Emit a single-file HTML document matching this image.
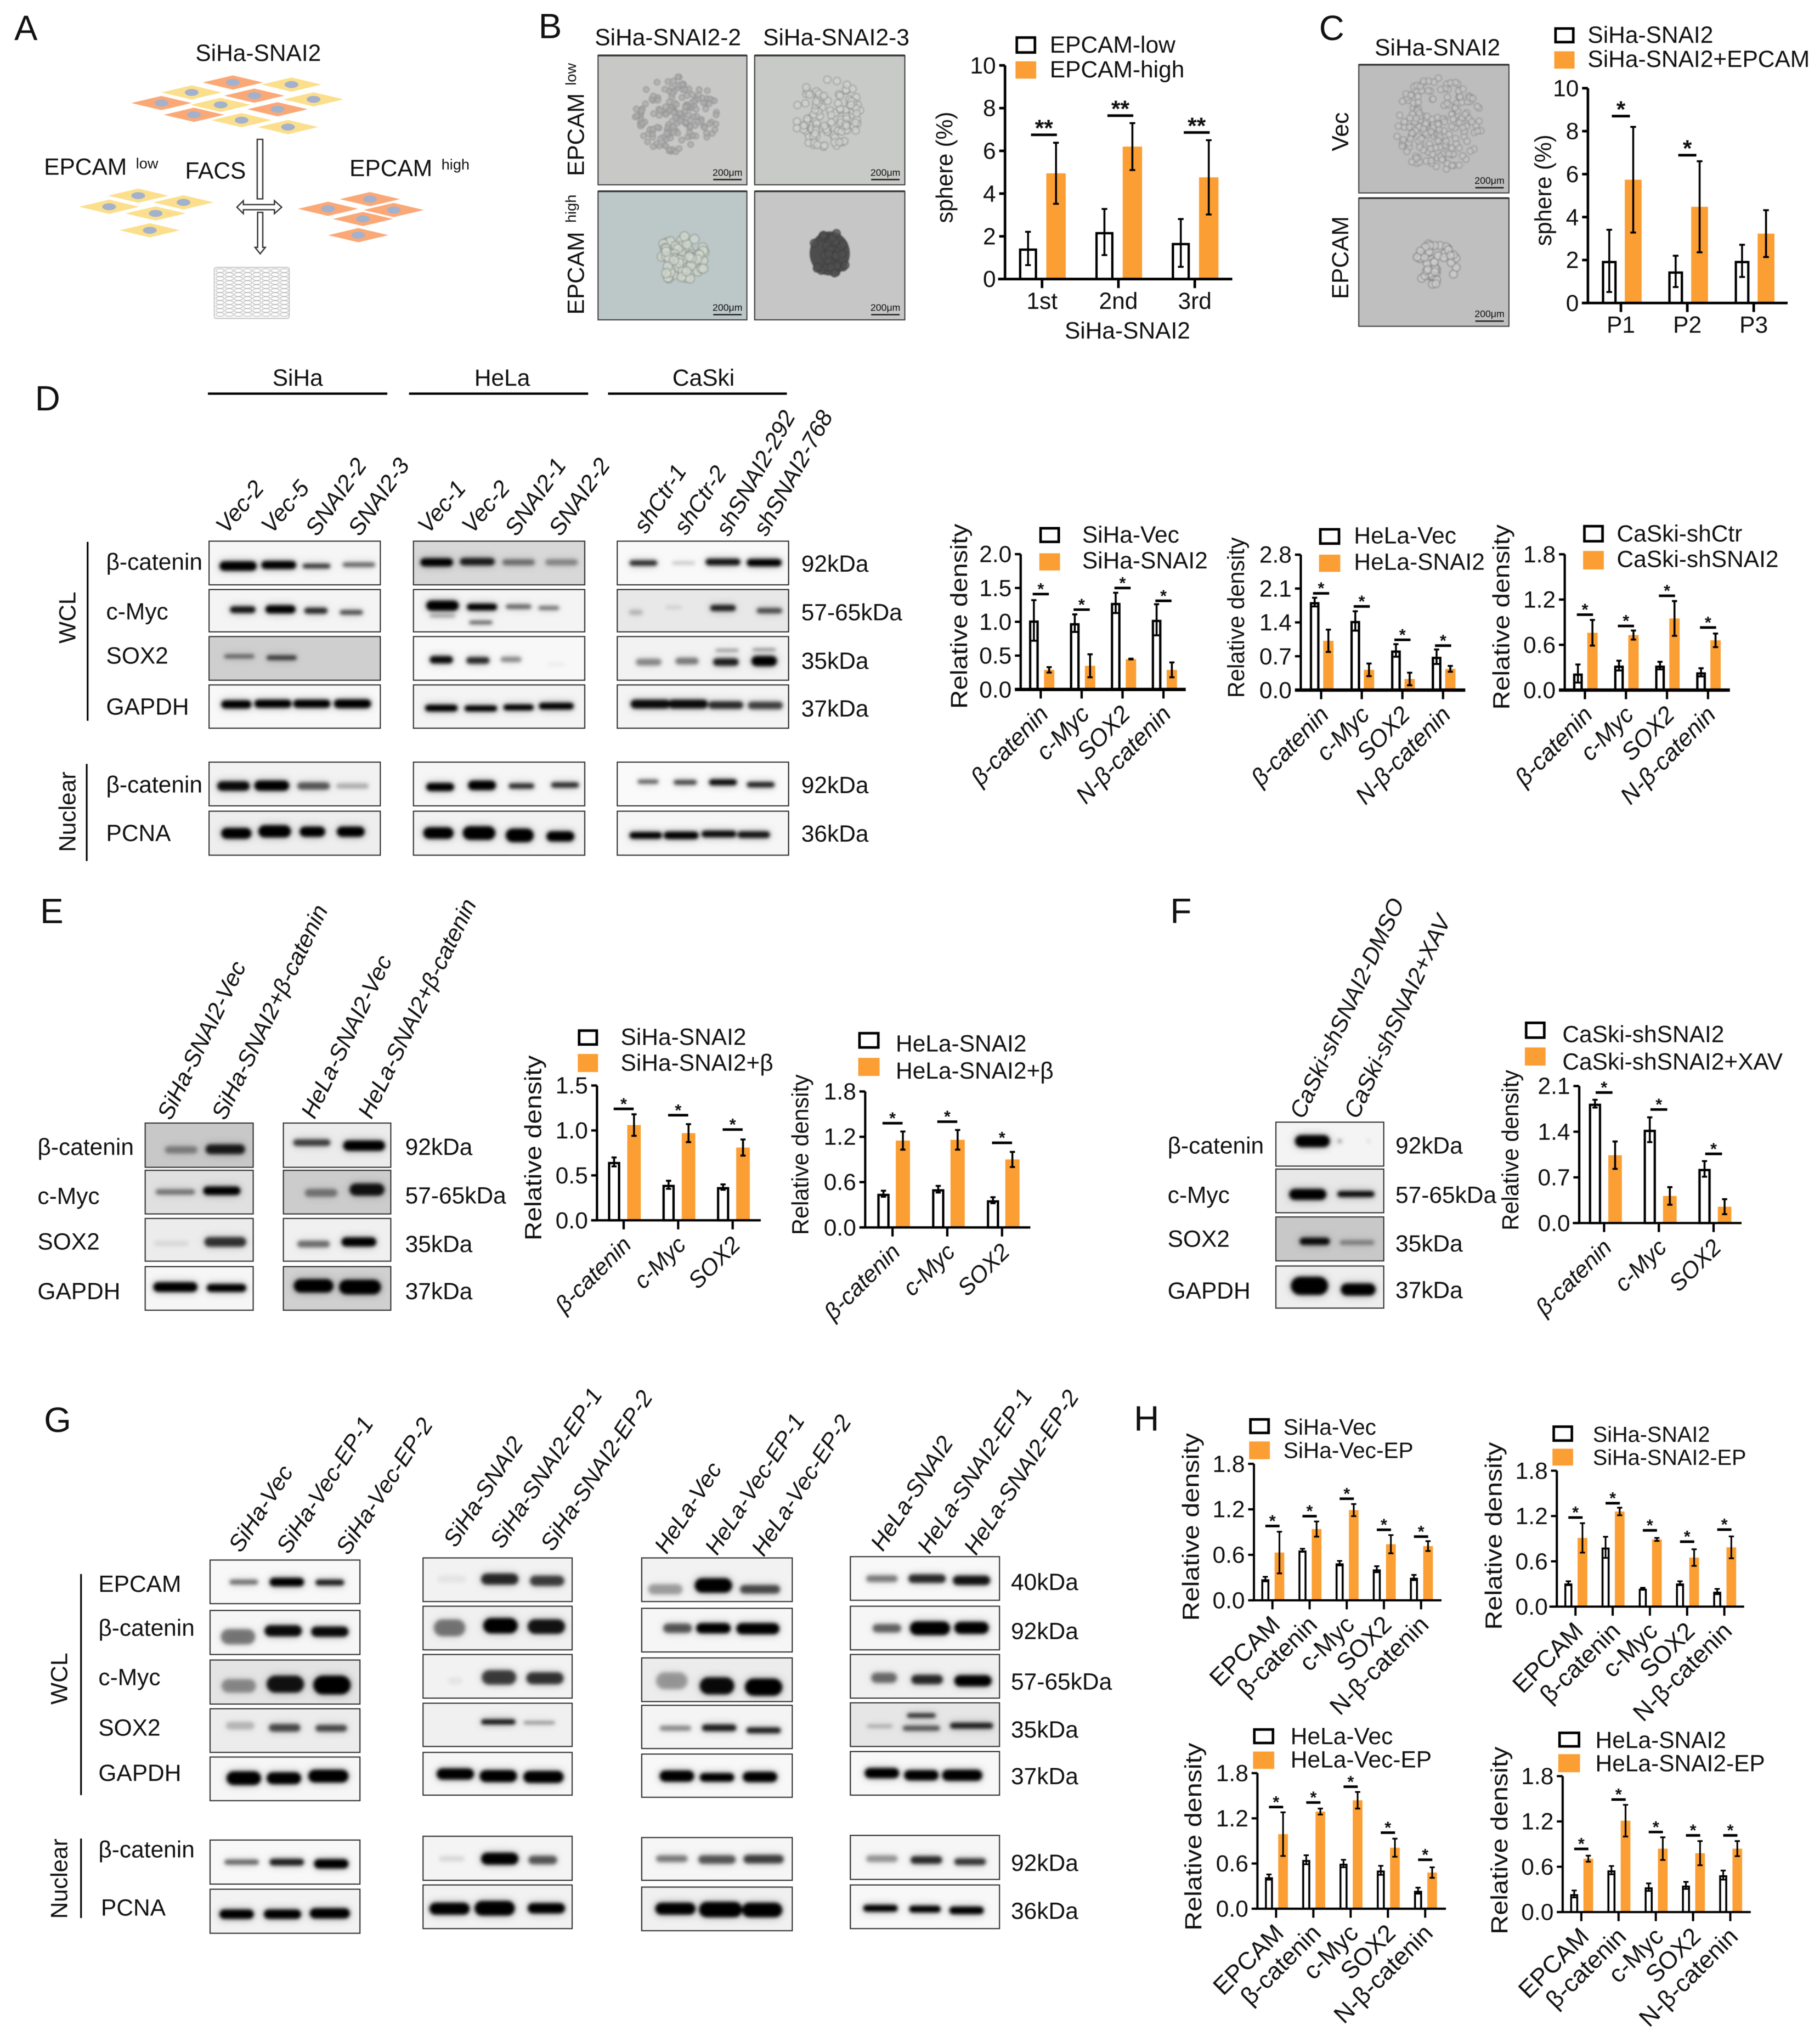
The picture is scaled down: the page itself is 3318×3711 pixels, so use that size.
<!DOCTYPE html>
<html lang="en">
<head>
<meta charset="utf-8">
<title>SNAI2 EPCAM figure</title>
<style>
html,body{margin:0;padding:0;background:#fff;}
#figure{display:block;width:3318px;height:3711px;font-family:"Liberation Sans",Arial,sans-serif;fill:#111;filter:blur(0.8px);}
#figure text{font-size:18px;}
#figure text.panel{font-size:27px;}
#figure text.lane{font-style:italic;}
#figure text.sup{font-size:11.5px;}
#figure text.scale{font-size:7.5px;}
</style>
</head>
<body>
<svg id="figure" xmlns="http://www.w3.org/2000/svg" width="3318" height="3711" viewBox="0 0 1406 1572.5">
<defs>
<filter id="bandBlur" x="-20%" y="-150%" width="140%" height="400%"><feGaussianBlur stdDeviation="1.3"/></filter>
<filter id="haloBlur" x="-20%" y="-150%" width="140%" height="400%"><feGaussianBlur stdDeviation="3.4"/></filter>
<filter id="cellBlur" x="-10%" y="-10%" width="120%" height="120%"><feGaussianBlur stdDeviation="0.45"/></filter>
</defs>
<rect x="0" y="0" width="1406" height="1572.5" fill="#fff"/>

<text class="panel" x="11" y="31">A</text>
<text class="panel" x="416" y="29.5">B</text>
<text class="panel" x="1019" y="31">C</text>
<text class="panel" x="27" y="317">D</text>
<text class="panel" x="31" y="713">E</text>
<text class="panel" x="904" y="713">F</text>
<text class="panel" x="34" y="1106">G</text>
<text class="panel" x="876" y="1105">H</text>

<!-- Panel A labels -->
<text x="151" y="47">SiHa-SNAI2</text>
<text x="34" y="135">EPCAM</text>
<text class="sup" x="105" y="130">low</text>
<text x="143" y="138">FACS</text>
<text x="270" y="136">EPCAM</text>
<text class="sup" x="341" y="131">high</text>
<g fill="#fff" stroke="#333" stroke-width="1">
<rect x="198.7" y="107.6" width="4.3" height="46"/>
<path d="M183 160 L188 155 L188 158 L212 158 L212 155 L217.6 160 L212 165 L212 162 L188 162 L188 165 Z"/>
<path d="M199 164 L203 164 L203 191 L205 191 L201 196 L197 191 L199 191 Z"/>
</g>

<!-- Panel B labels -->
<text x="459.5" y="35">SiHa-SNAI2-2</text>
<text x="589.5" y="35">SiHa-SNAI2-3</text>
<text transform="translate(451,136) rotate(-90)">EPCAM</text>
<text class="sup" transform="translate(445,66) rotate(-90)">low</text>
<text transform="translate(451,243) rotate(-90)">EPCAM</text>
<text class="sup" transform="translate(445,172) rotate(-90)">high</text>
<text transform="translate(735.8,129.3) rotate(-90)" text-anchor="middle" textLength="86" lengthAdjust="spacingAndGlyphs">sphere (%)</text>
<text x="871" y="261.4" text-anchor="middle">SiHa-SNAI2</text>
<rect x="785.5" y="29" width="14" height="11.5" fill="#fff" stroke="#000" stroke-width="2"/>
<text x="811" y="40.7">EPCAM-low</text>
<rect x="784.5" y="47.3" width="16" height="13.4" fill="#fb9e33"/>
<text x="811" y="59.8">EPCAM-high</text>

<!-- Panel C labels -->
<text x="1062" y="42.8">SiHa-SNAI2</text>
<text transform="translate(1041.6,101.7) rotate(-90)" text-anchor="middle">Vec</text>
<text transform="translate(1041.6,199) rotate(-90)" text-anchor="middle">EPCAM</text>
<text transform="translate(1198.4,147) rotate(-90)" text-anchor="middle" textLength="86" lengthAdjust="spacingAndGlyphs">sphere (%)</text>
<rect x="1201.7" y="22" width="13.7" height="10.5" fill="#fff" stroke="#000" stroke-width="2"/>
<text x="1226.5" y="33">SiHa-SNAI2</text>
<rect x="1200.7" y="39.6" width="15.7" height="13.4" fill="#fb9e33"/>
<text x="1226.5" y="51.7">SiHa-SNAI2+EPCAM</text>

<!-- Panel D labels -->
<text x="230" y="297.9" text-anchor="middle">SiHa</text>
<line x1="160.6" x2="299.2" y1="304" y2="304" stroke="#000" stroke-width="1.8"/>
<text x="388" y="297.9" text-anchor="middle">HeLa</text>
<line x1="316" x2="454.4" y1="304" y2="304" stroke="#000" stroke-width="1.8"/>
<text x="543.5" y="297.9" text-anchor="middle">CaSki</text>
<line x1="469.7" x2="607.9" y1="304" y2="304" stroke="#000" stroke-width="1.8"/>
<g>
<text class="lane" transform="translate(175,413) rotate(-50)">Vec-2</text>
<text class="lane" transform="translate(210,413) rotate(-50)">Vec-5</text>
<text class="lane" transform="translate(245,415) rotate(-55)">SNAI2-2</text>
<text class="lane" transform="translate(278,415) rotate(-55)">SNAI2-3</text>
<text class="lane" transform="translate(331,413) rotate(-50)">Vec-1</text>
<text class="lane" transform="translate(365,413) rotate(-50)">Vec-2</text>
<text class="lane" transform="translate(399,415) rotate(-55)">SNAI2-1</text>
<text class="lane" transform="translate(433,415) rotate(-55)">SNAI2-2</text>
<text class="lane" transform="translate(499,413) rotate(-57)">shCtr-1</text>
<text class="lane" transform="translate(530,414) rotate(-57)">shCtr-2</text>
<text class="lane" transform="translate(563,415) rotate(-61)">shSNAI2-292</text>
<text class="lane" transform="translate(592,415) rotate(-61)">shSNAI2-768</text>
</g>
<text transform="translate(58.3,477) rotate(-90)" text-anchor="middle">WCL</text>
<line x1="67.7" x2="67.7" y1="418.5" y2="556.7" stroke="#000" stroke-width="1.3"/>
<text transform="translate(58.3,627) rotate(-90)" text-anchor="middle">Nuclear</text>
<line x1="67" x2="67" y1="590" y2="665" stroke="#000" stroke-width="1.3"/>
<text x="82" y="440">β-catenin</text>
<text x="82" y="478.5">c-Myc</text>
<text x="82" y="512.5">SOX2</text>
<text x="82" y="552">GAPDH</text>
<text x="82" y="612">β-catenin</text>
<text x="82" y="649.5">PCNA</text>
<text x="619" y="441.5">92kDa</text>
<text x="619" y="479">57-65kDa</text>
<text x="619" y="516.5">35kDa</text>
<text x="619" y="553.5">37kDa</text>
<text x="619" y="612.5">92kDa</text>
<text x="619" y="650">36kDa</text>

<!-- Panel D chart legends and titles -->
<text transform="translate(747,476) rotate(-90)" text-anchor="middle" textLength="143" lengthAdjust="spacingAndGlyphs">Relative density</text>
<rect x="803.9" y="408" width="14" height="10.5" fill="#fff" stroke="#000" stroke-width="2"/>
<text x="836" y="419">SiHa-Vec</text>
<rect x="802.9" y="427.3" width="16" height="13.3" fill="#fb9e33"/>
<text x="836" y="439">SiHa-SNAI2</text>
<text transform="translate(961,477) rotate(-90)" text-anchor="middle" textLength="124" lengthAdjust="spacingAndGlyphs">Relative density</text>
<rect x="1020" y="408.8" width="14.4" height="11" fill="#fff" stroke="#000" stroke-width="2"/>
<text x="1046" y="419.8">HeLa-Vec</text>
<rect x="1019" y="428.4" width="16.4" height="13.3" fill="#fb9e33"/>
<text x="1046" y="440">HeLa-SNAI2</text>
<text transform="translate(1166,476.6) rotate(-90)" text-anchor="middle" textLength="143" lengthAdjust="spacingAndGlyphs">Relative density</text>
<rect x="1224" y="406.4" width="14" height="11.6" fill="#fff" stroke="#000" stroke-width="2"/>
<text x="1249" y="418.2">CaSki-shCtr</text>
<rect x="1223" y="425.5" width="16" height="14.3" fill="#fb9e33"/>
<text x="1249" y="438">CaSki-shSNAI2</text>

<!-- Panel E labels -->
<g>
<text class="lane" transform="translate(132,866) rotate(-64)">SiHa-SNAI2-Vec</text>
<text class="lane" transform="translate(174,866) rotate(-64)">SiHa-SNAI2+β-catenin</text>
<text class="lane" transform="translate(243,865) rotate(-64)">HeLa-SNAI2-Vec</text>
<text class="lane" transform="translate(287,865) rotate(-64)">HeLa-SNAI2+β-catenin</text>
</g>
<text x="29" y="892">β-catenin</text>
<text x="29" y="930">c-Myc</text>
<text x="29" y="965">SOX2</text>
<text x="29" y="1003.5">GAPDH</text>
<text x="313" y="892">92kDa</text>
<text x="313" y="929.5">57-65kDa</text>
<text x="313" y="967">35kDa</text>
<text x="313" y="1003.5">37kDa</text>
<text transform="translate(418,886.6) rotate(-90)" text-anchor="middle" textLength="143" lengthAdjust="spacingAndGlyphs">Relative density</text>
<rect x="447.4" y="796" width="13.6" height="10.7" fill="#fff" stroke="#000" stroke-width="2"/>
<text x="479.5" y="807">SiHa-SNAI2</text>
<text x="479.5" y="827">SiHa-SNAI2+β</text>
<rect x="446.4" y="814" width="15.6" height="14" fill="#fb9e33"/>
<text transform="translate(624.5,891.8) rotate(-90)" text-anchor="middle" textLength="124" lengthAdjust="spacingAndGlyphs">Relative density</text>
<rect x="664" y="798" width="14.5" height="11" fill="#fff" stroke="#000" stroke-width="2"/>
<text x="692" y="812">HeLa-SNAI2</text>
<rect x="663" y="817" width="16.5" height="14" fill="#fb9e33"/>
<text x="692" y="833">HeLa-SNAI2+β</text>

<!-- Panel F labels -->
<g>
<text class="lane" transform="translate(1007,865) rotate(-65)">CaSki-shSNAI2-DMSO</text>
<text class="lane" transform="translate(1049,865) rotate(-65)">CaSki-shSNAI2+XAV</text>
</g>
<text x="902" y="891">β-catenin</text>
<text x="902" y="929">c-Myc</text>
<text x="902" y="963">SOX2</text>
<text x="902" y="1003">GAPDH</text>
<text x="1078" y="891">92kDa</text>
<text x="1078" y="929">57-65kDa</text>
<text x="1078" y="966.5">35kDa</text>
<text x="1078" y="1002.5">37kDa</text>
<text transform="translate(1173,888.3) rotate(-90)" text-anchor="middle" textLength="124" lengthAdjust="spacingAndGlyphs">Relative density</text>
<rect x="1179" y="790" width="14" height="11.4" fill="#fff" stroke="#000" stroke-width="2"/>
<text x="1207" y="805">CaSki-shSNAI2</text>
<rect x="1178" y="809" width="16" height="14" fill="#fb9e33"/>
<text x="1207" y="826">CaSki-shSNAI2+XAV</text>

<!-- Panel G labels -->
<g>
<text class="lane" transform="translate(186,1200) rotate(-57)">SiHa-Vec</text>
<text class="lane" transform="translate(223,1201) rotate(-57)">SiHa-Vec-EP-1</text>
<text class="lane" transform="translate(269,1202) rotate(-57)">SiHa-Vec-EP-2</text>
<text class="lane" transform="translate(352,1196) rotate(-57)">SiHa-SNAI2</text>
<text class="lane" transform="translate(388,1197) rotate(-57)">SiHa-SNAI2-EP-1</text>
<text class="lane" transform="translate(427,1199) rotate(-57)">SiHa-SNAI2-EP-2</text>
<text class="lane" transform="translate(515,1201) rotate(-57)">HeLa-Vec</text>
<text class="lane" transform="translate(554,1202) rotate(-57)">HeLa-Vec-EP-1</text>
<text class="lane" transform="translate(590,1203) rotate(-57)">HeLa-Vec-EP-2</text>
<text class="lane" transform="translate(682,1199) rotate(-57)">HeLa-SNAI2</text>
<text class="lane" transform="translate(718,1201) rotate(-57)">HeLa-SNAI2-EP-1</text>
<text class="lane" transform="translate(754,1202) rotate(-57)">HeLa-SNAI2-EP-2</text>
</g>
<text transform="translate(52,1296.5) rotate(-90)" text-anchor="middle">WCL</text>
<line x1="62.6" x2="62.6" y1="1215.7" y2="1386.5" stroke="#000" stroke-width="1.3"/>
<text transform="translate(52,1451) rotate(-90)" text-anchor="middle">Nuclear</text>
<line x1="62.6" x2="62.6" y1="1420" y2="1481.4" stroke="#000" stroke-width="1.3"/>
<text x="76" y="1229.5">EPCAM</text>
<text x="76" y="1263.5">β-catenin</text>
<text x="76" y="1301.5">c-Myc</text>
<text x="76" y="1340.5">SOX2</text>
<text x="76" y="1375.5">GAPDH</text>
<text x="76" y="1434.5">β-catenin</text>
<text x="78" y="1479.5">PCNA</text>
<text x="781" y="1228">40kDa</text>
<text x="781" y="1266">92kDa</text>
<text x="781" y="1305">57-65kDa</text>
<text x="781" y="1342">35kDa</text>
<text x="781" y="1378">37kDa</text>
<text x="781" y="1445">92kDa</text>
<text x="781" y="1482">36kDa</text>

<!-- Panel H titles and legends -->
<text transform="translate(926,1179.4) rotate(-90)" text-anchor="middle" textLength="145" lengthAdjust="spacingAndGlyphs">Relative density</text>
<rect x="966" y="1096.3" width="14" height="10.4" fill="#fff" stroke="#000" stroke-width="2"/>
<text style="font-size:17.2px" x="991.5" y="1108">SiHa-Vec</text>
<rect x="965" y="1113.3" width="16" height="13.7" fill="#fb9e33"/>
<text style="font-size:17.2px" x="991.5" y="1126">SiHa-Vec-EP</text>
<text transform="translate(1160,1186.3) rotate(-90)" text-anchor="middle" textLength="145" lengthAdjust="spacingAndGlyphs">Relative density</text>
<rect x="1200.3" y="1101.9" width="14" height="10.7" fill="#fff" stroke="#000" stroke-width="2"/>
<text style="font-size:16.8px" x="1230.5" y="1113.5">SiHa-SNAI2</text>
<rect x="1199.3" y="1118.9" width="16" height="13" fill="#fb9e33"/>
<text style="font-size:16.8px" x="1230.5" y="1131.5">SiHa-SNAI2-EP</text>
<text transform="translate(928,1418.6) rotate(-90)" text-anchor="middle" textLength="145" lengthAdjust="spacingAndGlyphs">Relative density</text>
<rect x="969" y="1335.8" width="14.4" height="10.4" fill="#fff" stroke="#000" stroke-width="2"/>
<text x="997" y="1347">HeLa-Vec</text>
<rect x="968" y="1352.8" width="16.4" height="13.4" fill="#fb9e33"/>
<text x="997" y="1365">HeLa-Vec-EP</text>
<text transform="translate(1164.4,1421.5) rotate(-90)" text-anchor="middle" textLength="145" lengthAdjust="spacingAndGlyphs">Relative density</text>
<rect x="1204.8" y="1338.4" width="15" height="10.4" fill="#fff" stroke="#000" stroke-width="2"/>
<text x="1232.5" y="1350">HeLa-SNAI2</text>
<rect x="1203.8" y="1354.8" width="16.8" height="14" fill="#fb9e33"/>
<text x="1232.5" y="1368">HeLa-SNAI2-EP</text>
</svg>

<script>
/* ---------- chart data ---------- */
const bCats = ['1st', '2nd', '3rd'];
const bTicks = ['0', '2', '4', '6', '8', '10'];
const bLow = [1.43, 2.2, 1.69];
const bLowErr = [0.78, 1.08, 1.12];
const bHigh = [4.95, 6.2, 4.76];
const bHighErr = [1.43, 1.1, 1.74];
const bSig = [6.75, 7.65, 6.86];

const cCats = ['P1', 'P2', 'P3'];
const cTicks = ['0', '2', '4', '6', '8', '10'];
const cVec = [1.96, 1.47, 1.96];
const cVecErr = [1.45, 0.73, 0.75];
const cEpcam = [5.74, 4.48, 3.23];
const cEpcamErr = [2.46, 2.12, 1.09];
const cSig = [8.7, 6.88, null];

const d1Cats = ['β-catenin', 'c-Myc', 'SOX2', 'N-β-catenin'];
const d1Ticks = ['0.0', '0.5', '1.0', '1.5', '2.0'];
const d1Vec = [1.02, 0.98, 1.28, 1.03];
const d1VecErr = [0.3, 0.13, 0.15, 0.23];
const d1Snai2 = [0.29, 0.35, 0.45, 0.29];
const d1Snai2Err = [0.04, 0.17, 0.005, 0.11];
const d1Sig = [1.41, 1.18, 1.5, 1.31];

const d2Cats = ['β-catenin', 'c-Myc', 'SOX2', 'N-β-catenin'];
const d2Ticks = ['0.0', '0.7', '1.4', '2.1', '2.8'];
const d2Vec = [1.82, 1.43, 0.82, 0.69];
const d2VecErr = [0.09, 0.2, 0.13, 0.15];
const d2Snai2 = [1.02, 0.42, 0.23, 0.44];
const d2Snai2Err = [0.23, 0.13, 0.13, 0.06];
const d2Sig = [2.0, 1.73, 1.04, 0.92];

const d3Cats = ['β-catenin', 'c-Myc', 'SOX2', 'N-β-catenin'];
const d3Ticks = ['0.0', '0.6', '1.2', '1.8'];
const d3Ctr = [0.22, 0.325, 0.325, 0.236];
const d3CtrErr = [0.12, 0.065, 0.05, 0.054];
const d3Sh = [0.76, 0.73, 0.95, 0.66];
const d3ShErr = [0.17, 0.06, 0.23, 0.09];
const d3Sig = [1.0, 0.85, 1.25, 0.83];

const e1Cats = ['β-catenin', 'c-Myc', 'SOX2'];
const e1Ticks = ['0.0', '0.5', '1.0', '1.5'];
const e1Snai2 = [0.65, 0.395, 0.37];
const e1Snai2Err = [0.05, 0.045, 0.03];
const e1Beta = [1.06, 0.97, 0.81];
const e1BetaErr = [0.12, 0.1, 0.09];
const e1Sig = [1.24, 1.17, 1.01];

const e2Cats = ['β-catenin', 'c-Myc', 'SOX2'];
const e2Ticks = ['0.0', '0.6', '1.2', '1.8'];
const e2Snai2 = [0.446, 0.506, 0.36];
const e2Snai2Err = [0.04, 0.044, 0.04];
const e2Beta = [1.15, 1.16, 0.9];
const e2BetaErr = [0.12, 0.13, 0.1];
const e2Sig = [1.38, 1.4, 1.12];

const fCats = ['β-catenin', 'c-Myc', 'SOX2'];
const fTicks = ['0.0', '0.7', '1.4', '2.1'];
const fSh = [1.83, 1.43, 0.83];
const fShErr = [0.06, 0.19, 0.12];
const fXav = [1.04, 0.415, 0.25];
const fXavErr = [0.21, 0.135, 0.115];
const fSig = [2.0, 1.74, 1.06];

const hCats = ['EPCAM', 'β-catenin', 'c-Myc', 'SOX2', 'N-β-catenin'];
const hTicks = ['0.0', '0.6', '1.2', '1.8'];
const h1Vec = [0.28, 0.66, 0.49, 0.41, 0.30];
const h1VecErr = [0.03, 0.02, 0.03, 0.04, 0.035];
const h1Ep = [0.63, 0.94, 1.19, 0.74, 0.715];
const h1EpErr = [0.275, 0.1, 0.08, 0.12, 0.065];
const h1Sig = [0.98, 1.11, 1.34, 0.93, 0.84];

const h2Snai2 = [0.31, 0.785, 0.24, 0.31, 0.2];
const h2Snai2Err = [0.026, 0.14, 0.01, 0.026, 0.035];
const h2Ep = [0.91, 1.26, 0.89, 0.65, 0.785];
const h2EpErr = [0.195, 0.05, 0.02, 0.11, 0.145];
const h2Sig = [1.18, 1.37, 1.01, 0.86, 1.02];

const h3Vec = [0.42, 0.65, 0.6, 0.51, 0.24];
const h3VecErr = [0.035, 0.06, 0.05, 0.06, 0.04];
const h3Ep = [0.99, 1.29, 1.44, 0.81, 0.48];
const h3EpErr = [0.29, 0.04, 0.11, 0.12, 0.07];
const h3Sig = [1.35, 1.41, 1.62, 1.01, 0.65];

const h4Snai2 = [0.24, 0.555, 0.33, 0.353, 0.49];
const h4Snai2Err = [0.046, 0.055, 0.05, 0.047, 0.06];
const h4Ep = [0.707, 1.21, 0.84, 0.78, 0.84];
const h4EpErr = [0.04, 0.21, 0.15, 0.16, 0.10];
const h4Sig = [0.836, 1.49, 1.06, 1.015, 1.015];

/* ---------- helpers ---------- */
const NS = 'http://www.w3.org/2000/svg';
const root = document.getElementById('figure');
const ORANGE = '#fb9e33';
function el(tag, attrs, parent) {
  const e = document.createElementNS(NS, tag);
  for (const k in attrs) e.setAttribute(k, attrs[k]);
  (parent || root).appendChild(e);
  return e;
}
function slug(s) {
  return String(s).toLowerCase().replace(/β/g, 'beta').replace(/[^a-z0-9]+/g, '-');
}

/* ---------- bar chart through axis functions ---------- */
function drawChart(key, cats, ticks, a, aErr, b, bErr, sig, o) {
  const g = el('g', {});
  
  
  const yMax = parseFloat(ticks[ticks.length - 1]);
  const y = v => o.y0 - (v / yMax) * (o.y0 - o.yTop);
  const x = i => o.x0 + i * o.step;
  const series = [[a, aErr, o.offA, o.wA, '#fff', 'a'], [b, bErr, o.offB, o.wB, ORANGE, 'b']];
  series.forEach(s => {
    s[0].forEach((v, i) => {
      const cx = x(i) + s[2];
      const isWhite = s[4] === '#fff';
      const inset = isWhite ? 0.9 : 0;
      const r = el('rect', {x: cx - s[3] / 2 + inset, y: y(v) + inset, width: s[3] - 2 * inset, height: y(0) - y(v) - inset, fill: s[4], stroke: isWhite ? '#000' : 'none', 'stroke-width': isWhite ? o.sw : 0}, g);
      
      
      const e = s[1][i];
      const eg = el('path', {d: 'M' + cx + ' ' + y(v + e) + 'V' + y(Math.max(v - e, 0)) + 'M' + (cx - o.cap) + ' ' + y(v + e) + 'H' + (cx + o.cap) + 'M' + (cx - o.cap) + ' ' + y(Math.max(v - e, 0)) + 'H' + (cx + o.cap), stroke: '#000', 'stroke-width': o.ew, fill: 'none'}, g);
      
      
    });
  });
  const yAxis = el('line', {x1: o.axisX, x2: o.axisX, y1: y(yMax), y2: y(0), stroke: '#000', 'stroke-width': o.lw}, g);
  
  
  const xAxis = el('line', {x1: o.xL, x2: o.xR, y1: y(0), y2: y(0), stroke: '#000', 'stroke-width': o.xlw || o.lw}, g);
  
  
  ticks.forEach(t => {
    const v = parseFloat(t);
    const tm = el('line', {x1: o.axisX - 4.5, x2: o.axisX, y1: y(v), y2: y(v), stroke: '#000', 'stroke-width': o.lw}, g);
    
    
    const tl = el('text', {x: o.axisX - 7, y: y(v) + 6.2, 'text-anchor': 'end'}, g);
    
    
    tl.textContent = t;
  });
  cats.forEach((c, i) => {
    const tm = el('line', {x1: x(i), x2: x(i), y1: y(0), y2: y(0) + 7, stroke: '#000', 'stroke-width': o.lw}, g);
    
    
    let tl;
    if (o.labelRot) {
      tl = el('text', {'text-anchor': 'end', transform: 'translate(' + (x(i) + 7) + ',' + (y(0) + 20) + ') rotate(' + o.labelRot + ')', style: (o.italic ? 'font-style:italic;' : '') + 'font-size:' + o.labelFs + 'px'}, g);
    } else {
      tl = el('text', {x: x(i), y: y(0) + 23, 'text-anchor': 'middle'}, g);
    }
    
    
    tl.textContent = c;
    if (sig[i] !== null) {
      const sb = el('line', {x1: x(i) + o.sigDx - o.sigW / 2, x2: x(i) + o.sigDx + o.sigW / 2, y1: y(sig[i]), y2: y(sig[i]), stroke: '#000', 'stroke-width': 2}, g);
      
      
      const st = el('text', {x: x(i) + o.sigDx, y: y(sig[i]) + o.starDy, 'text-anchor': 'middle', style: 'font-size:' + o.starFs + 'px;font-weight:bold'}, g);
      
      
      st.textContent = o.star;
    }
  });
}

/* ---------- western blot panels (image-like, not chart data) ---------- */
function blot(name, map, box, bg, bands) {
  const X = z => map.ox + map.ax * z;
  const Y = z => map.oy + map.ay * z;
  const x0 = X(box[0]), y0 = Y(box[1]), x1 = X(box[2]), y1 = Y(box[3]);
  const id = 'clip' + (blot.n = (blot.n || 0) + 1);
  const cp = el('clipPath', {id: id});
  el('rect', {x: x0, y: y0, width: x1 - x0, height: y1 - y0}, cp);
  const g = el('g', {});
  
  
  el('rect', {x: x0, y: y0, width: x1 - x0, height: y1 - y0, fill: bg}, g);
  const clip = el('g', {'clip-path': 'url(#' + id + ')'}, g);
  const halo = el('g', {filter: 'url(#haloBlur)', opacity: 0.35}, clip);
  const core = el('g', {filter: 'url(#bandBlur)'}, clip);
  bands.forEach(b => {
    const w = 2 * map.ax * b[2], h = 2 * map.ay * b[3];
    const attrs = {x: X(b[0]) - w / 2, y: Y(b[1]) - h / 2, width: w, height: h, rx: Math.min(w, h) / 2, fill: '#000', opacity: b[4]};
    el('rect', attrs, halo);
    el('rect', attrs, core);
  });
  el('rect', {x: x0, y: y0, width: x1 - x0, height: y1 - y0, fill: 'none', stroke: '#333', 'stroke-width': 0.9}, g);
}

const Z3 = {ax: 0.4486, ox: 0, ay: 0.2594, oy: 279.7};
const ZE = {ax: 0.4486, ox: 0, ay: 0.2324, oy: 678};
const ZF = {ax: 0.448, ox: 703.4, ay: 0.2324, oy: 678};
const ZG = {ax: 0.5539, ox: 0, ay: 0.3272, oy: 1059.3};

/* panel D */
const dCols = [[360, 655], [712, 1007], [1063, 1358]];
const dRows = [[533, 663], [677, 803], [817, 947], [961, 1090], [1191, 1321], [1337, 1468]];
const dRowNames = ['beta-catenin', 'c-myc', 'sox2', 'gapdh', 'nuclear-beta-catenin', 'pcna'];
const dColNames = ['siha', 'hela', 'caski'];
const dBg = [['#f6f6f6', '#d8d8d8', '#f9f9f9'], ['#f4f4f4', '#f4f4f4', '#e8e8e8'], ['#cfcfcf', '#f8f8f8', '#f2f2f2'], ['#f8f8f8', '#f4f4f4', '#f4f4f4'], ['#f2f2f2', '#f6f6f6', '#fafafa'], ['#eeeeee', '#f2f2f2', '#f6f6f6']];
const dBands = [
 [[[410,607,32,14,1],[480,604,30,12,1],[545,607,24,7,.75],[618,603,28,7,.55]],[[752,596,28,12,1],[822,594,30,11,.85],[893,596,28,9,.45],[967,596,28,9,.35]],[[1108,598,24,8,.8],[1177,598,20,5,.18],[1245,595,30,10,.9],[1316,597,30,11,1]]],
 [[[418,737,22,10,.9],[483,736,26,12,1],[544,740,20,9,.8],[605,745,20,7,.65]],[[762,725,28,15,1],[762,755,22,5,.3],[830,729,26,10,1],[828,775,20,5,.6],[893,728,22,7,.55],[945,732,18,6,.5]],[[1095,745,12,8,.2],[1160,730,14,5,.1],[1245,732,22,9,.85],[1325,740,22,8,.65]]],
 [[[412,876,26,6,.5],[485,880,26,7,.7]],[[760,886,20,11,.95],[823,888,20,10,.8],[880,885,18,8,.4],[958,900,16,8,.03]],[[1117,893,22,10,.4],[1183,890,20,10,.45],[1250,893,22,11,.85],[1252,858,20,3,.5],[1316,890,22,15,1],[1316,856,20,3,.5]]],
 [[[407,1019,26,12,1],[470,1017,32,12,1],[537,1017,32,12,1],[607,1017,32,13,1]],[[760,1030,28,10,1],[828,1031,28,9,1],[893,1028,26,9,1],[958,1024,30,10,1]],[[1120,1018,34,13,.95],[1185,1018,34,13,.95],[1250,1021,30,11,.8],[1318,1022,30,11,.7]]],
 [[[402,1262,28,14,.95],[468,1261,30,15,1],[540,1262,28,11,.6],[607,1262,28,8,.25]],[[758,1265,24,12,1],[830,1260,24,14,1],[898,1262,22,8,.8],[973,1259,24,8,.8]],[[1116,1249,18,6,.6],[1180,1251,20,7,.7],[1245,1251,24,9,.95],[1310,1258,24,8,.85]]],
 [[[407,1403,26,16,1],[473,1397,28,18,1],[538,1398,22,15,1],[604,1398,24,15,1]],[[755,1402,26,17,1],[825,1402,28,20,1],[895,1409,24,20,1],[965,1412,24,15,1]],[[1112,1409,28,10,1],[1173,1409,30,11,1],[1238,1405,30,10,.95],[1298,1407,28,10,.9]]]
];
dRows.forEach((r, ri) => dCols.forEach((c, ci) => {
  blot('d-blot-' + dColNames[ci] + '-' + dRowNames[ri], Z3, [c[0], r[0], c[1], r[1]], dBg[ri][ci], dBands[ri][ci]);
}));

/* panel E */
const eCols = [[250, 436], [488, 673]];
const eRows = [[815, 962], [972, 1117], [1132, 1274], [1292, 1437]];
const eRowNames = ['beta-catenin', 'c-myc', 'sox2', 'gapdh'];
const eBg = [['#c8c8c8', '#ececec'], ['#e0e0e0', '#cccccc'], ['#ececec', '#f0f0f0'], ['#f6f6f6', '#d0d0d0']];
const eBands = [
 [[[312,904,28,12,.35],[388,902,34,16,.85]],[[537,880,32,11,.7],[627,890,36,17,1]]],
 [[[302,1044,34,9,.45],[382,1040,32,14,1]],[[553,1047,28,13,.4],[632,1036,30,20,.9]]],
 [[[295,1215,30,8,.08],[388,1210,36,16,.75]],[[540,1217,28,11,.5],[618,1210,30,15,1]]],
 [[[302,1360,38,16,1],[390,1363,34,13,1]],[[540,1356,34,22,1],[620,1360,36,24,1]]]
];
eRows.forEach((r, ri) => eCols.forEach((c, ci) => {
  blot('e-blot-' + (ci ? 'hela' : 'siha') + '-' + eRowNames[ri], ZE, [c[0], r[0], c[1], r[1]], eBg[ri][ci], eBands[ri][ci]);
}));

/* panel F */
const fRows = [[812, 958], [968, 1113], [1127, 1273], [1290, 1430]];
const fBg = ['#f4f4f4', '#e8e8e8', '#c8c8c8', '#eeeeee'];
const fBands = [
 [[693,875,30,20,1],[740,875,4,8,.3],[790,875,3,7,.1]],
 [[685,1052,32,18,1],[768,1051,32,10,.95]],
 [[697,1208,26,12,.95],[770,1212,30,8,.35]],
 [[688,1356,32,30,1],[772,1368,30,20,1]]
];
fRows.forEach((r, ri) => {
  blot('f-blot-' + eRowNames[ri], ZF, [630, r[0], 816, r[1]], fBg[ri], fBands[ri]);
});

/* panel G */
const gCols = [[293, 502], [590, 798], [895, 1105], [1186, 1394]];
const gRows = [
 [[445,548],[564,668],[681,785],[796,899],[910,1013],[1106,1210],[1222,1326]],
 [[440,543],[554,657],[668,771],[783,885],[899,1000],[1097,1201],[1212,1315]],
 [[440,543],[559,662],[676,779],[788,890],[903,1005],[1100,1201],[1217,1320]],
 [[437,540],[554,657],[668,771],[782,885],[897,1000],[1095,1199],[1212,1315]]
];
const gRowNames = ['epcam', 'beta-catenin', 'c-myc', 'sox2', 'gapdh', 'nuclear-beta-catenin', 'pcna'];
const gColNames = ['siha-vec', 'siha-snai2', 'hela-vec', 'hela-snai2'];
const gBg = [['#f8f8f8','#f2f2f2','#f2f2f2','#f8f8f8'],['#f6f6f6','#f0f0f0','#f6f6f6','#f6f6f6'],['#e4e4e4','#f2f2f2','#ececec','#f0f0f0'],['#ececec','#f0f0f0','#f4f4f4','#e6e6e6'],['#f6f6f6','#f6f6f6','#f8f8f8','#f8f8f8'],['#f8f8f8','#f4f4f4','#f6f6f6','#f6f6f6'],['#f2f2f2','#f2f2f2','#f0f0f0','#f8f8f8']];
const gBands = [
 [[[340,497,20,6,.5],[400,497,24,10,1],[460,498,20,7,.85]],[[630,490,20,8,.05],[697,490,26,13,.8],[763,494,24,12,.7]],[[928,514,24,12,.3],[995,505,26,17,1],[1060,514,28,10,.65]],[[1230,489,22,8,.45],[1293,489,26,10,.8],[1355,493,26,11,.9]]],
 [[[332,626,24,18,.45],[395,612,26,13,.95],[460,614,26,12,.95]],[[627,605,22,20,.45],[698,600,24,18,1],[762,602,26,17,.9]],[[945,606,20,11,.6],[995,606,24,12,1],[1057,607,30,13,1]],[[1237,606,20,10,.55],[1297,606,28,16,1],[1355,605,24,14,1]]],
 [[[333,742,24,16,.35],[398,738,26,20,.9],[463,740,26,22,1]],[[635,730,10,8,.05],[696,722,24,17,.7],[760,724,26,14,.75]],[[937,730,22,20,.3],[1000,742,24,20,.95],[1065,745,26,20,1]],[[1233,723,18,12,.5],[1293,727,22,11,.8],[1357,730,26,13,1]]],
 [[[335,836,20,9,.2],[397,841,22,9,.65],[462,842,22,8,.65]],[[695,827,24,6,.9],[752,829,22,4,.35]],[[942,842,22,6,.4],[1003,841,24,8,.85],[1065,847,24,7,.85]],[[1227,837,18,4,.25],[1285,812,20,5,.8],[1285,842,26,6,.6],[1355,836,30,7,.85]]],
 [[[340,960,24,16,1],[396,960,24,14,1],[458,955,28,15,1]],[[635,950,26,13,1],[695,955,26,14,1],[758,957,28,14,1]],[[944,955,24,13,1],[1000,958,24,10,1],[1060,957,24,12,1]],[[1230,948,24,12,1],[1285,953,24,12,1],[1342,953,28,13,1]]],
 [[[337,1158,24,6,.55],[400,1158,24,8,.85],[462,1162,24,11,1]],[[630,1150,18,6,.1],[697,1150,26,14,1],[757,1153,20,10,.6]],[[937,1150,22,8,.45],[1000,1152,26,10,.6],[1065,1151,28,10,.7]],[[1230,1150,22,8,.35],[1292,1153,22,9,.8],[1353,1157,22,8,.75]]],
 [[[330,1281,24,11,1],[394,1281,26,11,1],[460,1279,28,12,1]],[[627,1268,28,14,1],[690,1267,28,17,1],[762,1267,26,12,1]],[[942,1268,28,14,1],[1005,1270,30,18,1],[1063,1271,28,17,1]],[[1228,1267,24,8,1],[1290,1269,22,8,1],[1348,1272,24,9,1]]]
];
gCols.forEach((c, ci) => gRows[ci].forEach((r, ri) => {
  blot('g-blot-' + gColNames[ci] + '-' + gRowNames[ri], ZG, [c[0], r[0], c[1], r[1]], gBg[ri][ci], gBands[ri][ci]);
}));

/* ---------- sphere micrographs ---------- */
let seed = 12345;
function rnd() { seed = (seed * 16807) % 2147483647; return seed / 2147483647; }
function micro(name, x0, y0, x1, y1, bg, c) {
  const g = el('g', {});
  
  
  el('rect', {x: x0, y: y0, width: x1 - x0, height: y1 - y0, fill: bg}, g);
  const cells = el('g', {filter: 'url(#cellBlur)'}, g);
  if (c.solid) el('ellipse', {cx: c.cx, cy: c.cy, rx: c.rx, ry: c.ry, fill: c.solid}, cells);
  for (let i = 0; i < c.n; i++) {
    const a = rnd() * Math.PI * 2, d = Math.pow(rnd(), 0.6);
    el('circle', {cx: c.cx + Math.cos(a) * d * c.rx, cy: c.cy + Math.sin(a) * d * c.ry, r: c.r, fill: c.fill, stroke: c.stroke, 'stroke-width': 0.6, 'fill-opacity': 0.75}, cells);
  }
  el('rect', {x: x0, y: y0, width: x1 - x0, height: y1 - y0, fill: 'none', stroke: '#444', 'stroke-width': 0.9}, g);
  el('line', {x1: x0, x2: x1, y1: y0, y2: y0, stroke: '#333', 'stroke-width': 1.4}, g);
  const bar = el('line', {x1: x1 - 26, x2: x1 - 4, y1: y1 - 4, y2: y1 - 4, stroke: '#222', 'stroke-width': 1.1}, g);
  
  
  const sc = el('text', {class: 'scale', x: x1 - 15, y: y1 - 7, 'text-anchor': 'middle'}, g);
  
  
  sc.textContent = '200μm';
}
micro('b-micrograph-low-2', 462, 42.8, 577, 142.7, '#c8c9c7', {cx: 521.7, cy: 90, rx: 33, ry: 31, n: 170, r: 2.2, fill: '#acacac', stroke: '#939393'});
micro('b-micrograph-low-3', 583, 42.8, 699, 142.7, '#c8cac7', {cx: 638, cy: 87, rx: 29, ry: 27, n: 110, r: 2.8, fill: '#cfd1cd', stroke: '#8d908c'});
micro('b-micrograph-high-2', 462, 147.7, 577, 247, '#bcc8c8', {cx: 527, cy: 200, rx: 19, ry: 19, n: 60, r: 3.6, fill: '#cfd7cc', stroke: '#8a8f8a'});
micro('b-micrograph-high-3', 583, 147.7, 699, 247, '#c6c6c6', {cx: 641, cy: 195.7, rx: 15.5, ry: 17, n: 40, r: 3, fill: '#505050', stroke: '#3c3c3c', solid: '#4e4e4e'});
micro('c-micrograph-vec', 1049.7, 50, 1165.7, 149, '#bdbdbd', {cx: 1111, cy: 96.3, rx: 34, ry: 36, n: 190, r: 2.4, fill: '#c4c4c4', stroke: '#8c8c8c'});
micro('c-micrograph-epcam', 1049.7, 153, 1165.7, 252, '#bfbfbf', {cx: 1109.7, cy: 204.6, rx: 16.5, ry: 17.5, n: 45, r: 3, fill: '#cccccc', stroke: '#7a7a7a'});

/* ---------- panel A cells and plate ---------- */
const cellX = z => 0.4486 * z;
const cellY = z => 0.1784 * z;
const cellGroups = [
  ['a-cells-mixed', [[401,357,1],[502,366,0],[330,400,0],[438,414,1],[278,446,1],[380,454,0],[540,430,0],[478,473,1],[334,497,1],[416,520,0],[496,550,0]]],
  ['a-cells-low', [[238,847,0],[316,876,0],[188,895,0],[268,924,0],[258,997,0]]],
  ['a-cells-high', [[637,862,1],[565,904,1],[678,909,1],[625,948,1],[617,1018,1]]]
];
cellGroups.forEach(cg => {
  const g = el('g', {});
  
  
  cg[1].forEach(c => {
    const cx = cellX(c[0]), cy = cellY(c[1]);
    const cell = el('polygon', {points: (cx - 23.3) + ',' + cy + ' ' + cx + ',' + (cy - 5.5) + ' ' + (cx + 23.3) + ',' + cy + ' ' + cx + ',' + (cy + 5.5), fill: c[2] ? '#fba877' : '#fbdf8c'}, g);
    
    
    el('ellipse', {cx: cx, cy: cy, rx: 5.3, ry: 2.7, fill: '#a3b1cc'}, g);
  });
});
const plate = el('g', {});


el('rect', {x: 165.5, y: 206.5, width: 58, height: 39.5, rx: 1.5, fill: '#f6f6f6', stroke: '#c8c8c8', 'stroke-width': 0.8}, plate);
for (let col = 0; col < 8; col++) {
  for (let row = 0; row < 12; row++) {
    el('ellipse', {cx: 170 + col * 7.1, cy: 209 + row * 3.08, rx: 3.1, ry: 1.4, fill: '#fff', stroke: '#bcbcbc', 'stroke-width': 0.5}, plate);
  }
}

/* ---------- draw every chart ---------- */
const base = {sw: 1.8, ew: 1.5, cap: 2, lw: 1.8, sigDx: 0, starFs: 13, star: '*', starDy: 0.5, labelFs: 18};
drawChart('b', bCats, bTicks, bLow, bLowErr, bHigh, bHighErr, bSig, Object.assign({}, base, {axisX: 776.4, y0: 215.5, yTop: 50.5, xL: 771, xR: 952, x0: 805, step: 59, offA: -10.8, offB: 10.8, wA: 14, wB: 15, sigDx: 1.5, sigW: 20, star: '**', starFs: 18, starDy: 1, cap: 2.2, lw: 2}));
drawChart('c', cCats, cTicks, cVec, cVecErr, cEpcam, cEpcamErr, cSig, Object.assign({}, base, {axisX: 1226.7, y0: 234, yTop: 68.1, xL: 1222, xR: 1381, x0: 1252.2, step: 51.3, offA: -9, offB: 9.5, wA: 11.4, wB: 13, sigDx: 0, sigW: 14, starFs: 18, starDy: 1, cap: 2.2, lw: 2}));
const dOpt = {labelRot: -46, italic: true, sigW: 12.5, xlw: 2.6, labelFs: 18.6};
drawChart('d1', d1Cats, d1Ticks, d1Vec, d1VecErr, d1Snai2, d1Snai2Err, d1Sig, Object.assign({}, base, dOpt, {axisX: 788.5, y0: 532.5, yTop: 428, xL: 784, xR: 916, x0: 804, step: 31.6, offA: -5.3, offB: 6.5, wA: 7.5, wB: 8}));
drawChart('d2', d2Cats, d2Ticks, d2Vec, d2VecErr, d2Snai2, d2Snai2Err, d2Sig, Object.assign({}, base, dOpt, {axisX: 1004.9, y0: 533, yTop: 428.4, xL: 1000.4, xR: 1132, x0: 1020.6, step: 31.4, offA: -5, offB: 5.6, wA: 7.5, wB: 8}));
drawChart('d3', d3Cats, d3Ticks, d3Ctr, d3CtrErr, d3Sh, d3ShErr, d3Sig, Object.assign({}, base, dOpt, {axisX: 1208.8, y0: 533, yTop: 428.1, xL: 1204.3, xR: 1336.4, x0: 1224.4, step: 31.7, offA: -5.4, offB: 5.8, wA: 7.5, wB: 8}));
const eOpt = {labelRot: -45, italic: true, sigW: 15.5};
drawChart('e1', e1Cats, e1Ticks, e1Snai2, e1Snai2Err, e1Beta, e1BetaErr, e1Sig, Object.assign({}, base, eOpt, {axisX: 461.2, y0: 942.5, yTop: 838.4, xL: 456.7, xR: 587.7, x0: 481.8, step: 42.1, offA: -7.4, offB: 8, wA: 9.5, wB: 10.5}));
drawChart('e2', e2Cats, e2Ticks, e2Snai2, e2Snai2Err, e2Beta, e2BetaErr, e2Sig, Object.assign({}, base, eOpt, {axisX: 668.4, y0: 948, yTop: 843, xL: 664, xR: 796, x0: 689.5, step: 42.3, offA: -7, offB: 8, wA: 9.5, wB: 11}));
drawChart('f', fCats, fTicks, fSh, fShErr, fXav, fXavErr, fSig, Object.assign({}, base, eOpt, {axisX: 1220, y0: 944.6, yTop: 838.8, xL: 1215, xR: 1345.4, x0: 1239.2, step: 42.3, offA: -7, offB: 8.5, wA: 9.5, wB: 10.5, sigW: 13}));
const hOpt = {labelRot: -45, italic: false, sigW: 11, ew: 1.3, sw: 1.5, lw: 1.7, wA: 6.5, wB: 7.5, offA: -5.5, offB: 5.4, labelFs: 19};
drawChart('h1', hCats, hTicks, h1Vec, h1VecErr, h1Ep, h1EpErr, h1Sig, Object.assign({}, base, hOpt, {axisX: 968.7, y0: 1236, yTop: 1130.6, xL: 966.3, xR: 1113.6, x0: 983, step: 28.7}));
drawChart('h2', hCats, hTicks, h2Snai2, h2Snai2Err, h2Ep, h2EpErr, h2Sig, Object.assign({}, base, hOpt, {axisX: 1202.7, y0: 1240.9, yTop: 1135.9, xL: 1196.9, xR: 1347.4, x0: 1217.1, step: 28.75}));
drawChart('h3', hCats, hTicks, h3Vec, h3VecErr, h3Ep, h3EpErr, h3Sig, Object.assign({}, base, hOpt, {axisX: 971.4, y0: 1474.2, yTop: 1369.5, xL: 967.3, xR: 1117, x0: 985.8, step: 28.8}));
drawChart('h4', hCats, hTicks, h4Snai2, h4Snai2Err, h4Ep, h4EpErr, h4Sig, Object.assign({}, base, hOpt, {axisX: 1207.2, y0: 1476.8, yTop: 1371.8, xL: 1202.7, xR: 1352.5, x0: 1221.6, step: 28.78}));
</script>
</body>
</html>
